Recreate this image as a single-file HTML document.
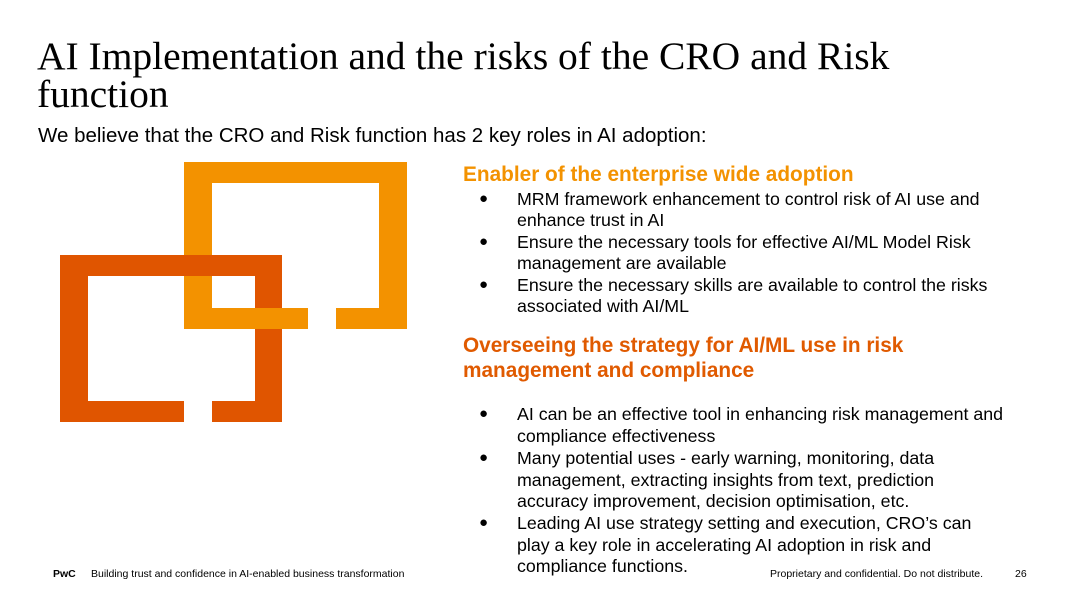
<!DOCTYPE html>
<html><head><meta charset="utf-8"><style>
body{margin:0;width:1080px;height:608px;background:#fff;position:relative;overflow:hidden;font-family:"Liberation Sans",sans-serif;color:#000}
.a{position:absolute;white-space:nowrap}
.t{font-family:"Liberation Serif",serif;font-size:39.5px;line-height:40px;left:37px}
.b{font-size:17.8px;line-height:20px;left:517px}
.d{font-size:15px;line-height:20px;left:479px}
.h{font-size:20.8px;line-height:24px;font-weight:bold;left:463px}
.r{position:absolute}
.f{font-size:10.5px;line-height:14px}
</style></head><body>
<div class="a t" style="top:36px">AI Implementation and the risks of the CRO and Risk</div>
<div class="a t" style="top:74px">function</div>
<div class="a" style="left:38px;top:124px;font-size:20.5px;line-height:24px">We believe that the CRO and Risk function has 2 key roles in AI adoption:</div>

<div>
<div class="r" style="left:184px;top:162px;width:223px;height:21px;background:#F39200"></div>
<div class="r" style="left:184px;top:162px;width:28px;height:167px;background:#F39200"></div>
<div class="r" style="left:379px;top:162px;width:28px;height:167px;background:#F39200"></div>
<div class="r" style="left:336px;top:308px;width:71px;height:21px;background:#F39200"></div>
<div class="r" style="left:60px;top:255px;width:222px;height:21px;background:#E05500"></div>
<div class="r" style="left:60px;top:255px;width:28px;height:167px;background:#E05500"></div>
<div class="r" style="left:255px;top:255px;width:27px;height:167px;background:#E05500"></div>
<div class="r" style="left:60px;top:401px;width:124px;height:21px;background:#E05500"></div>
<div class="r" style="left:212px;top:401px;width:70px;height:21px;background:#E05500"></div>
<div class="r" style="left:184px;top:308px;width:124px;height:21px;background:#F39200"></div>
</div>

<div class="a h" style="top:163px;color:#F39200">Enabler of the enterprise wide adoption</div>
<div class="a d" style="top:189px">●</div><div class="a b" style="top:189px">MRM framework enhancement to control risk of AI use and</div>
<div class="a b" style="top:210px">enhance trust in AI</div>
<div class="a d" style="top:232px">●</div><div class="a b" style="top:232px">Ensure the necessary tools for effective AI/ML Model Risk</div>
<div class="a b" style="top:253px">management are available</div>
<div class="a d" style="top:275px">●</div><div class="a b" style="top:275px">Ensure the necessary skills are available to control the risks</div>
<div class="a b" style="top:296px">associated with AI/ML</div>

<div class="a h" style="top:334px;color:#E05A00">Overseeing the strategy for AI/ML use in risk</div>
<div class="a h" style="top:359px;color:#E05A00">management and compliance</div>
<div class="a d" style="top:404px">●</div><div class="a b" style="top:404px">AI can be an effective tool in enhancing risk management and</div>
<div class="a b" style="top:426px">compliance effectiveness</div>
<div class="a d" style="top:448px">●</div><div class="a b" style="top:448px">Many potential uses - early warning, monitoring, data</div>
<div class="a b" style="top:470px">management, extracting insights from text, prediction</div>
<div class="a b" style="top:491px">accuracy improvement, decision optimisation, etc.</div>
<div class="a d" style="top:513px">●</div><div class="a b" style="top:513px">Leading AI use strategy setting and execution, CRO’s can</div>
<div class="a b" style="top:535px">play a key role in accelerating AI adoption in risk and</div>
<div class="a b" style="top:556px">compliance functions.</div>

<div class="a f" style="left:53px;top:567px;font-weight:bold">PwC</div>
<div class="a f" style="left:91px;top:567px">Building trust and confidence in AI-enabled business transformation</div>
<div class="a f" style="left:770px;top:567px">Proprietary and confidential. Do not distribute.</div>
<div class="a f" style="left:1015px;top:567px">26</div>
</body></html>
